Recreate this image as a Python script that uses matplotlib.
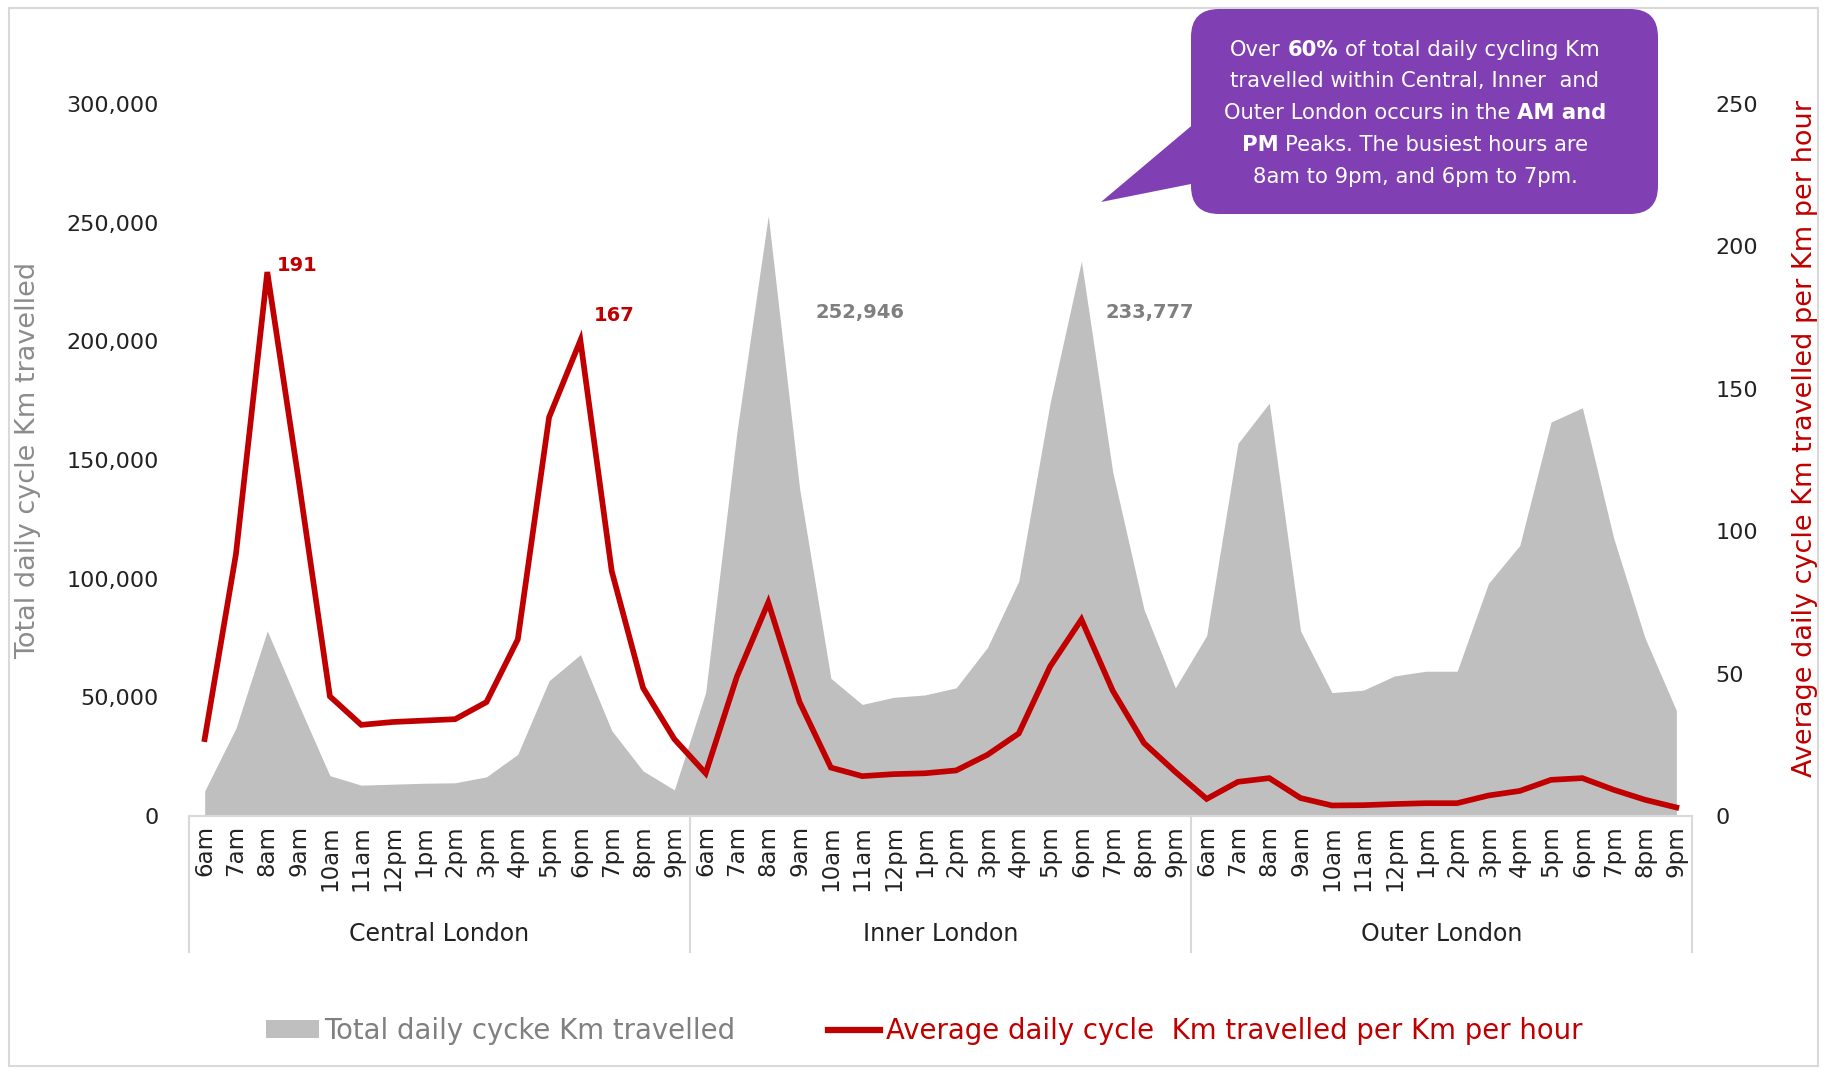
import matplotlib
matplotlib.use("Agg")
import matplotlib.pyplot as plt
import matplotlib.transforms as mtransforms
from matplotlib.patches import FancyBboxPatch, Polygon, Rectangle, Patch
from matplotlib.lines import Line2D
from matplotlib.ticker import FuncFormatter
import numpy as np

plt.rcParams['font.family'] = ['DejaVu Sans']

# ---------------- data ----------------
hours = ['6am', '7am', '8am', '9am', '10am', '11am', '12pm', '1pm',
         '2pm', '3pm', '4pm', '5pm', '6pm', '7pm', '8pm', '9pm']
areas = ['Central London', 'Inner London', 'Outer London']

total_central = [10500, 37000, 78000, 47000, 17000, 13000, 13400, 13800,
                 14000, 16500, 26000, 57000, 68000, 36000, 19000, 11000]
total_inner = [52000, 162000, 252946, 138000, 58000, 47000, 50000, 51000,
               54000, 71000, 99000, 174000, 233777, 145000, 87000, 54000]
total_outer = [76000, 157000, 174000, 78000, 52000, 53000, 59000, 61000,
               61000, 98000, 114000, 166000, 172000, 117000, 75000, 44500]

avg_central = [27, 92, 191, 118, 42, 32, 33, 33.5,
               34, 40, 62, 140, 167, 86, 45, 27]
avg_inner = [15, 49, 75, 40, 17, 14, 14.7, 15,
             16, 21.5, 29, 52.5, 69, 44, 25.6, 15.5]
avg_outer = [6, 12, 13.3, 6.3, 3.7, 3.8, 4.2, 4.5,
             4.5, 7.2, 8.8, 12.7, 13.3, 9.2, 5.7, 3]

label_total = 'Total daily cycke Km travelled'
label_avg = 'Average daily cycle  Km travelled per Km per hour'

# ---------------- figure ----------------
W, H = 1831, 1071
fig = plt.figure(figsize=(W / 100, H / 100), dpi=100)
fig.patch.set_facecolor('white')

ax = fig.add_axes([189 / W, 1 - 816 / H, 1503 / W, 712 / H])
ax2 = ax.twinx()

totals = total_central + total_inner + total_outer
avgs = avg_central + avg_inner + avg_outer
x = np.arange(len(totals))

ax.fill_between(x, totals, color='#BFBFBF', lw=0, zorder=1)
ax2.plot(x, avgs, color='#C00000', lw=4.1, solid_joinstyle='miter', zorder=3)

ax.set_xlim(-0.5, len(totals) - 0.5)
ax.set_ylim(0, 300000)
ax2.set_ylim(0, 250)
ax.set_yticks(np.arange(0, 300001, 50000))
ax2.set_yticks(np.arange(0, 251, 50))
ax.yaxis.set_major_formatter(FuncFormatter(lambda v, p: f'{int(v):,}'))

ax.set_xticks(x)
ax.set_xticklabels(hours * len(areas), rotation=90, fontsize=16.5, color='#222222')
ax.tick_params(axis='x', length=0, pad=6.5)
ax.tick_params(axis='y', length=0, pad=22, labelsize=16, labelcolor='#222222')
ax2.tick_params(axis='y', length=0, pad=17, labelsize=16, labelcolor='#222222')

for sp in ['top', 'left', 'right']:
    ax.spines[sp].set_visible(False)
for sp in ax2.spines.values():
    sp.set_visible(False)
ax.spines['bottom'].set_color('#D9D9D9')
ax.spines['bottom'].set_linewidth(1.5)

ax.set_ylabel('Total daily cycle Km travelled', fontsize=19.5, color='#8C8C8C')
ax.yaxis.set_label_coords(-0.0985, 0.5)
ax2.set_ylabel('Average daily cycle Km travelled per Km per hour', fontsize=19.5,
               color='#C00000', rotation=90)
ax2.yaxis.set_label_coords(1.0665, 0.53)

# group labels and separators
blend = mtransforms.blended_transform_factory(ax.transData, ax.transAxes)
n = len(hours)
for i, name in enumerate(areas):
    ax.text(i * n + (n - 1) / 2, -0.1657, name, transform=blend, ha='center',
            va='center', fontsize=17, color='#222222')
for i in range(len(areas) + 1):
    b = i * n - 0.5
    ax.plot([b, b], [0, -0.191], transform=blend, color='#D9D9D9', lw=1.5,
            clip_on=False)

# value annotations
ax2.annotate(f'{avg_central[2]:g}', xy=(2, avg_central[2]), xytext=(7, 5),
             textcoords='offset points', color='#C00000', fontweight='bold',
             fontsize=14, ha='left', va='center')
ax2.annotate(f'{avg_central[12]:g}', xy=(12, avg_central[12]), xytext=(10, 18),
             textcoords='offset points', color='#C00000', fontweight='bold',
             fontsize=14, ha='left', va='center')
ax.annotate(f'{total_inner[2]:,}', xy=(n + 2, total_inner[2]), xytext=(34, -70),
            textcoords='offset points', color='#7F7F7F', fontweight='bold',
            fontsize=14, ha='left', va='center')
ax.annotate(f'{total_inner[12]:,}', xy=(n + 12, total_inner[12]), xytext=(17, -37),
            textcoords='offset points', color='#7F7F7F', fontweight='bold',
            fontsize=14, ha='left', va='center')

# legend
handles = [Patch(facecolor='#BFBFBF', edgecolor='none'),
           Line2D([], [], color='#C00000', lw=4.5)]
leg = fig.legend(handles, [label_total, label_avg], loc='center left',
                 bbox_to_anchor=(266 / W, 1 - 1031 / H), ncol=2, frameon=False,
                 fontsize=19.8, handlelength=1.92, handleheight=0.64,
                 handletextpad=0.2, columnspacing=3.35, borderpad=0,
                 borderaxespad=0)
leg.get_texts()[0].set_color('#808080')
leg.get_texts()[1].set_color('#C00000')

# overlay in pixel coordinates for callout and frame
ov = fig.add_axes([0, 0, 1, 1], zorder=5)
ov.set_xlim(0, W)
ov.set_ylim(H, 0)
ov.axis('off')
ov.patch.set_alpha(0)

ov.add_patch(Rectangle((9, 8), 1809, 1058, fill=False, ec='#D9D9D9', lw=1.5))

purple = '#8040B4'
ov.add_patch(FancyBboxPatch((1191, 9), 467, 205,
                            boxstyle='round,pad=0,rounding_size=28',
                            fc=purple, ec='none'))
ov.add_patch(Polygon([(1196, 122), (1101, 202), (1196, 183)], closed=True,
                     fc=purple, ec='none'))

lines = [
    [('Over', False), ('60%', True), ('of total daily cycling Km', False)],
    [('travelled within Central, Inner  and', False)],
    [('Outer London occurs in the', False), ('AM and', True)],
    [('PM', True), ('Peaks. The busiest hours are', False)],
    [('8am to 9pm, and 6pm to 7pm.', False)],
]
line_y = [50, 81, 113, 145, 177]
xc = 1415
fs = 15.2
renderer = fig.canvas.get_renderer()


def width(s, bold):
    t = ov.text(0, 0, s, fontsize=fs, fontweight='bold' if bold else 'normal')
    w = t.get_window_extent(renderer).width
    t.remove()
    return w


sw = width('x x', False) - width('xx', False)
for segs, yy in zip(lines, line_y):
    ws = [width(s, b) for s, b in segs]
    total_w = sum(ws) + sw * (len(segs) - 1)
    xs = xc - total_w / 2
    for (s, b), w in zip(segs, ws):
        ov.text(xs, yy, s, fontsize=fs, fontweight='bold' if b else 'normal',
                color='white', ha='left', va='center')
        xs += w + sw

fig.savefig('out.png', dpi=100, facecolor='white')
